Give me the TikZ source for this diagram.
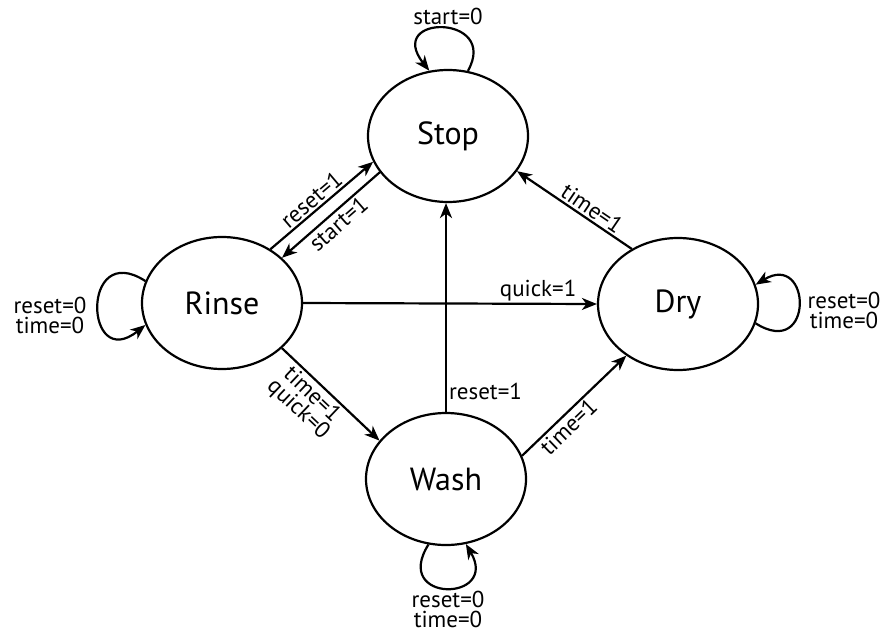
\documentclass[tikz,border=0pt]{standalone}
\usepackage{fontspec}
\setmainfont{PT Sans}
\usetikzlibrary{arrows.meta,shapes.geometric}
\begin{document}
\begin{tikzpicture}[x=1pt,y=-1pt,
  state/.style={draw, ellipse, line width=2.2pt, minimum width=160pt, minimum height=132pt, inner sep=0pt, font=\fontsize{32}{36}\selectfont},
  lbl/.style={font=\fontsize{23}{20}\selectfont, inner sep=2pt, align=center},
  conn/.style={line width=2.2pt, -{Stealth[length=15pt,width=12pt,inset=4.5pt]}},
]
\useasboundingbox (0,0) rectangle (885,632);
\node[state] (stop) at (448,136) {Stop};
\node[state] (rinse) at (222,303) {Rinse};
\node[state] (dry) at (678,304) {Dry};
\node[state] (wash) at (446,479) {Wash};

\draw[conn] (rinse.48) -- node[lbl, sloped, above, pos=0.47] {reset=1} (stop.199);
\draw[conn] (stop.208) -- node[lbl, sloped, below] {start=1} (rinse.37);
\draw[conn] (rinse.east) -- node[lbl, above, pos=0.8] {quick=1} (dry.west);
\draw[conn] (rinse.323) -- node[lbl, sloped, below, pos=0.4] {time=1\\quick=0} (wash.150);
\draw[conn] (wash.north) -- node[lbl, right, pos=0.1] {reset=1} (wash.north |- stop.south);
\draw[conn] (wash.17) -- node[lbl, sloped, below, pos=0.37] {time=1} (dry.225);
\draw[conn] (dry.130) -- node[lbl, sloped, above, pos=0.4] {time=1} (stop.333);

\draw[conn] (stop.73) .. controls +(32,-57) and +(-45,-57) .. (stop.106);
\draw[conn] (rinse.164) .. controls +(-65,-42) and +(-61,49) .. (rinse.196);
\draw[conn] (dry.346) .. controls +(59,37) and +(56,-34) .. (dry.14);
\draw[conn] (wash.255) .. controls +(-37,59) and +(34,58) .. (wash.287);

\node[lbl] (lstop) at (448,16) {start=0};
\node[lbl] (lrinse) at (50,315) {reset=0\\time=0};
\node[lbl] (ldry) at (844,310) {reset=0\\time=0};
\node[lbl] (lwash) at (448,609) {reset=0\\time=0};
\end{tikzpicture}
\end{document}
